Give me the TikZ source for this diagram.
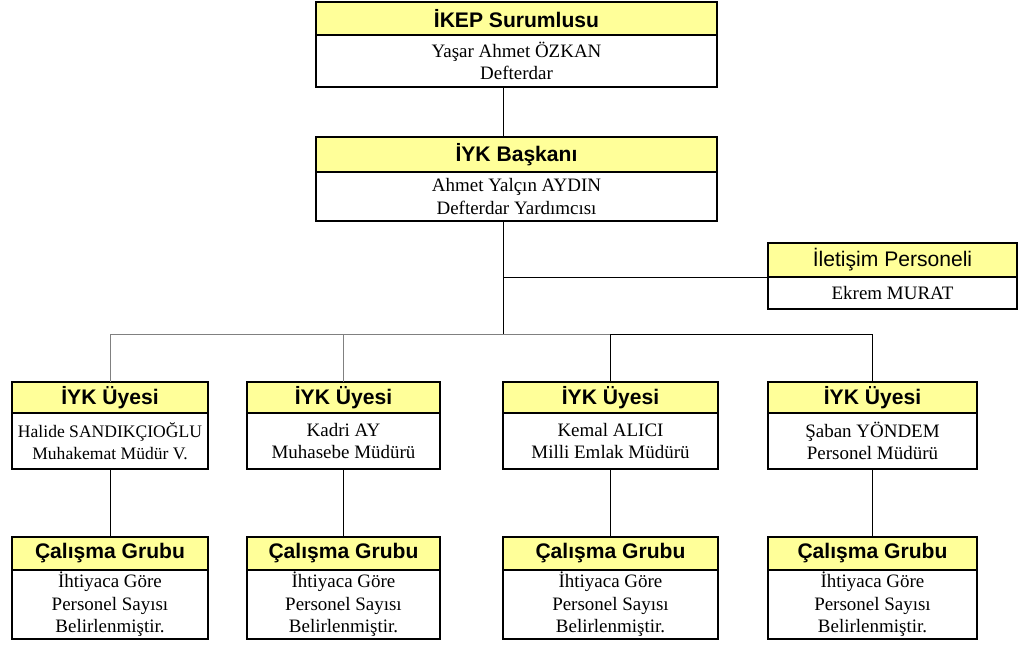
\documentclass[tikz,border=0pt]{standalone}
\usepackage{fontspec}
\setmainfont{Liberation Serif}
\newfontfamily\headfont{Liberation Sans}
\usepackage{xcolor}
\usepackage{tikz}
\usetikzlibrary{positioning}
\pgfdeclarelayer{nodelayer}
\pgfdeclarelayer{edgelayer}
\pgfsetlayers{main,nodelayer,edgelayer}
\definecolor{headyellow}{RGB}{255,255,153}
\tikzstyle{head box}=[fill=headyellow, draw=black, line width=0.8pt, shape=rectangle, inner sep=0pt, outer sep=0pt, font=\headfont\bfseries\fontsize{15}{17}\selectfont]
\tikzstyle{name box}=[fill=white, draw=black, line width=0.8pt, shape=rectangle, inner sep=0pt, outer sep=0pt, align=center, font=\fontsize{13.5}{16}\selectfont]
\tikzstyle{org_edge}=[-, draw=black, line width=0.7pt]
\tikzstyle{bus_edge}=[-, draw=gray, line width=0.7pt]

\begin{document}
\begin{tikzpicture}
        \useasboundingbox (0,0) rectangle (25.45,-16.125);
        \begin{pgfonlayer}{nodelayer}
            % top of the chart
            \node[style=head box, minimum width=10.025cm, minimum height=0.825cm] (kep) at (12.9125,-0.4625) {İKEP Surumlusu};
            \node[style=name box, minimum width=10.025cm, minimum height=1.3cm, below=0pt of kep] (kepb) {Yaşar Ahmet ÖZKAN\\Defterdar};
            \node[style=head box, minimum width=10.025cm, minimum height=0.875cm] (bas) at (12.9125,-3.8625) {İYK Başkanı};
            \node[style=name box, minimum width=10.025cm, minimum height=1.225cm, below=0pt of bas] (basb) {Ahmet Yalçın AYDIN\\Defterdar Yardımcısı};
            \node[style=head box, font=\headfont\fontsize{15}{17}\selectfont, minimum width=6.225cm, minimum height=0.85cm] (ilt) at (22.3125,-6.5) {İletişim Personeli};
            \node[style=name box, minimum width=6.225cm, minimum height=0.8cm, below=0pt of ilt] (iltb) {Ekrem MURAT};
            % members
            \node[style=head box, minimum width=4.9cm, minimum height=0.775cm] (m1) at (2.75,-9.9375) {İYK Üyesi};
            \node[style=name box, font=\fontsize{12.5}{16}\selectfont, minimum width=4.9cm, minimum height=1.4cm, below=0pt of m1] (m1b) {Halide SANDIKÇIOĞLU\\Muhakemat Müdür V.};
            \node[style=head box, minimum width=4.825cm, minimum height=0.775cm] (m2) at (8.5875,-9.9375) {İYK Üyesi};
            \node[style=name box, minimum width=4.825cm, minimum height=1.4cm, below=0pt of m2] (m2b) {Kadri AY\\Muhasebe Müdürü};
            \node[style=head box, minimum width=5.375cm, minimum height=0.775cm] (m3) at (15.2625,-9.9375) {İYK Üyesi};
            \node[style=name box, minimum width=5.375cm, minimum height=1.4cm, below=0pt of m3] (m3b) {Kemal ALICI\\Milli Emlak Müdürü};
            \node[style=head box, minimum width=5.225cm, minimum height=0.775cm] (m4) at (21.8125,-9.9375) {İYK Üyesi};
            \node[style=name box, minimum width=5.225cm, minimum height=1.4cm, below=0pt of m4] (m4b) {Şaban YÖNDEM\\Personel Müdürü};
            % work groups
            \node[style=head box, minimum width=4.9cm, minimum height=0.825cm] (w1) at (2.75,-13.8375) {Çalışma Grubu};
            \node[style=name box, minimum width=4.9cm, minimum height=1.725cm, below=0pt of w1] (w1b) {İhtiyaca Göre\\Personel Sayısı\\Belirlenmiştir.};
            \node[style=head box, minimum width=4.825cm, minimum height=0.825cm] (w2) at (8.5875,-13.8375) {Çalışma Grubu};
            \node[style=name box, minimum width=4.825cm, minimum height=1.725cm, below=0pt of w2] (w2b) {İhtiyaca Göre\\Personel Sayısı\\Belirlenmiştir.};
            \node[style=head box, minimum width=5.375cm, minimum height=0.825cm] (w3) at (15.2625,-13.8375) {Çalışma Grubu};
            \node[style=name box, minimum width=5.375cm, minimum height=1.725cm, below=0pt of w3] (w3b) {İhtiyaca Göre\\Personel Sayısı\\Belirlenmiştir.};
            \node[style=head box, minimum width=5.225cm, minimum height=0.825cm] (w4) at (21.8125,-13.8375) {Çalışma Grubu};
            \node[style=name box, minimum width=5.225cm, minimum height=1.725cm, below=0pt of w4] (w4b) {İhtiyaca Göre\\Personel Sayısı\\Belirlenmiştir.};
            \coordinate (trunk) at (12.575,-8.35);
        \end{pgfonlayer}
        \begin{pgfonlayer}{edgelayer}
            \draw[style=org_edge] (kepb.south -| trunk) to (bas.north -| trunk);
            \draw[style=org_edge] (basb.south -| trunk) to (trunk);
            \draw[style=org_edge] (iltb.north west) to (iltb.north west -| trunk);
            \draw[style=bus_edge] (m1.north) |- (m3.north |- trunk);
            \draw[style=bus_edge] (m2.north |- trunk) to (m2.north);
            \draw[style=org_edge] (m3.north) |- (m4.north |- trunk) to (m4.north);
            \foreach \i in {1,...,4}
                \draw[style=org_edge] (m\i b.south) to (w\i.north);
        \end{pgfonlayer}
    \end{tikzpicture}
\end{document}
